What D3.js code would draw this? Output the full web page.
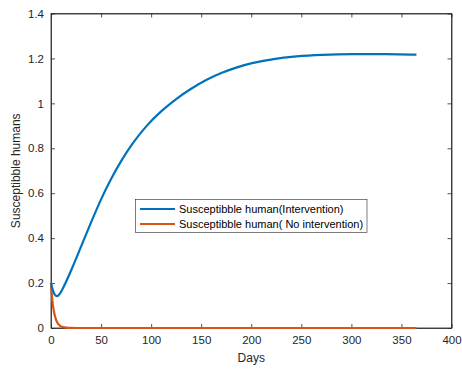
<!DOCTYPE html>
<html><head><meta charset="utf-8">
<script src="https://cdn.jsdelivr.net/npm/d3@7"></script>
<style>body{margin:0;background:#fff}svg{display:block}text{font-family:"Liberation Sans",Arial,sans-serif}</style>
</head><body>
<script>
const daysInt = [0,2,4,6,8,11,15,20,26,32,40,50,60,70,82,95,110,125,140,155,170,185,200,220,245,270,300,335,365];
const valInt  = [0.2,0.163,0.145,0.14,0.146,0.168,0.205,0.255,0.318,0.385,0.47,0.575,0.665,0.745,0.826,0.9,0.966,1.021,1.066,1.105,1.136,1.16,1.179,1.197,1.21,1.216,1.22,1.219,1.217];
const daysNo = [0,1,2,3,4,5,6,8,10,12,15,20,30,50,100,200,300,365];
const valNo  = [0.2,0.14,0.1,0.072,0.052,0.037,0.027,0.014,0.007,0.004,0.0015,0.0004,0,0,0,0,0,0];
const xTicks = [0,50,100,150,200,250,300,350,400];
const yTicks = [0,0.2,0.4,0.6,0.8,1,1.2,1.4];
const seriesNames = ["Susceptibble human(Intervention)","Susceptibble human( No intervention)"];
const colors = ["#0072BD","#D95319"];

const W=462,H=370, L=51, R=451.5, T=13.5, B=328;
const svg=d3.select("body").append("svg").attr("width",W).attr("height",H);
svg.append("rect").attr("width",W).attr("height",H).attr("fill","#fff");
const x=d3.scaleLinear().domain([0,400]).range([L,R]);
const y=d3.scaleLinear().domain([0,1.4]).range([B,T]);
const ac="#262626";
const fmt=d=>String(d);

svg.append("rect").attr("x",L).attr("y",T).attr("width",R-L).attr("height",B-T).attr("fill","none").attr("stroke",ac).attr("stroke-width",0.8);

const gx=svg.append("g").attr("transform",`translate(0,${B})`).call(d3.axisBottom(x).tickValues(xTicks).tickFormat(fmt).tickSizeInner(-4).tickSizeOuter(0).tickPadding(8));
const gy=svg.append("g").attr("transform",`translate(${L},0)`).call(d3.axisLeft(y).tickValues(yTicks).tickFormat(fmt).tickSizeInner(-4).tickSizeOuter(0).tickPadding(7));
const gx2=svg.append("g").attr("transform",`translate(0,${T})`).call(d3.axisTop(x).tickValues(xTicks).tickFormat("").tickSizeInner(-4).tickSizeOuter(0));
const gy2=svg.append("g").attr("transform",`translate(${R},0)`).call(d3.axisRight(y).tickValues(yTicks).tickFormat("").tickSizeInner(-4).tickSizeOuter(0));
[gx,gy,gx2,gy2].forEach(g=>{
  g.select(".domain").attr("stroke",ac).attr("stroke-width",0.8);
  g.selectAll(".tick line").attr("stroke",ac).attr("stroke-width",0.8);
  g.selectAll(".tick text").attr("fill",ac).attr("font-size",11.5).attr("font-family","Liberation Sans, Arial, sans-serif");
});

const lineNo=d3.line().x(d=>x(d[0])).y(d=>y(d[1])).curve(d3.curveMonotoneX);
const lineInt=d3.line().x(d=>x(d[0])).y(d=>y(d[1])).curve(d3.curveBasis);
svg.append("path").datum(daysNo.map((d,i)=>[d,valNo[i]])).attr("d",lineNo).attr("fill","none").attr("stroke",colors[1]).attr("stroke-width",2.2);
svg.append("path").datum(daysInt.map((d,i)=>[d,valInt[i]])).attr("d",lineInt).attr("fill","none").attr("stroke",colors[0]).attr("stroke-width",2.2);

svg.append("text").attr("x",(L+R)/2).attr("y",362).attr("text-anchor","middle").attr("font-size",12).attr("fill",ac).text("Days");
svg.append("text").attr("transform",`translate(20,${(T+B)/2}) rotate(-90)`).attr("text-anchor","middle").attr("font-size",12).attr("fill",ac).text("Susceptibble humans");

const lg=svg.append("g");
lg.append("rect").attr("x",135.5).attr("y",199.5).attr("width",231.5).attr("height",33).attr("fill","#fff").attr("stroke",ac).attr("stroke-width",0.6);
seriesNames.forEach((n,i)=>{
  const yy=209+i*15;
  lg.append("line").attr("x1",140).attr("x2",175).attr("y1",yy).attr("y2",yy).attr("stroke",colors[i]).attr("stroke-width",2.2);
  lg.append("text").attr("x",179).attr("y",yy+4).attr("font-size",11).attr("fill","#000").text(n);
});
</script>
</body></html>
